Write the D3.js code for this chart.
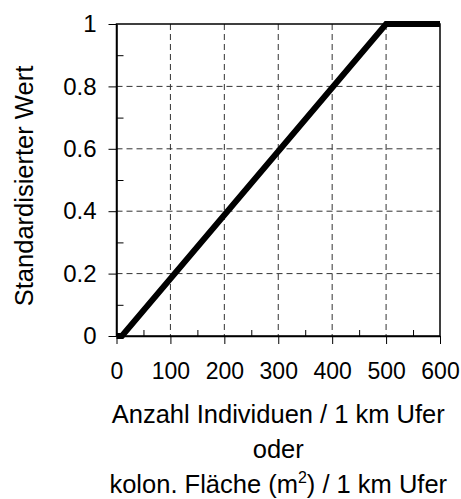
<!DOCTYPE html>
<html>
<head>
<meta charset="utf-8">
<script src="https://d3js.org/d3.v7.min.js"></script>
<style>
  body { margin: 0; background: #fff; }
  text { font-family: "Liberation Sans", Arial, sans-serif; fill: #000; }
</style>
</head>
<body>
<div id="chart"></div>
<script>
// data: piecewise standardisation curve
var xValues = [0, 10, 500, 600];
var yValues = [0, 0, 1, 1];
var xTicks = [0, 100, 200, 300, 400, 500, 600];
var yTicks = [0, 0.2, 0.4, 0.6, 0.8, 1];
var yTickLabels = ["0", "0.2", "0.4", "0.6", "0.8", "1"];

var margin = {top: 24, right: 21, bottom: 163, left: 116.5},
    width = 461 - margin.left - margin.right,
    height = 499 - margin.top - margin.bottom;

var svg = d3.select("#chart")
  .append("svg")
    .attr("width", 461)
    .attr("height", 499)
  .append("g")
    .attr("transform", "translate(" + margin.left + "," + margin.top + ")");

var x = d3.scaleLinear().domain([0, 600]).range([0, width]);
var y = d3.scaleLinear().domain([0, 1]).range([height, 0]);

// dashed grid
svg.selectAll(".vgrid")
  .data(xTicks.slice(1, -1))
  .enter().append("line")
    .attr("x1", function(d) { return x(d); })
    .attr("x2", function(d) { return x(d); })
    .attr("y1", 0).attr("y2", height)
    .attr("stroke", "#333").attr("stroke-width", 1)
    .attr("stroke-dasharray", "6,4");
svg.selectAll(".hgrid")
  .data(yTicks.slice(1, -1))
  .enter().append("line")
    .attr("x1", 0).attr("x2", width)
    .attr("y1", function(d) { return y(d); })
    .attr("y2", function(d) { return y(d); })
    .attr("stroke", "#333").attr("stroke-width", 1)
    .attr("stroke-dasharray", "6,4");

// minor ticks (inside)
svg.append("g")
  .attr("transform", "translate(0," + height + ")")
  .call(d3.axisTop(x).tickValues(d3.range(50, 600, 100)).tickSize(6).tickFormat(""))
  .call(function(g) { g.select(".domain").remove(); });
svg.append("g")
  .call(d3.axisRight(y).tickValues([0.1, 0.3, 0.5, 0.7, 0.9]).tickSize(7).tickFormat(""))
  .call(function(g) { g.select(".domain").remove(); });

// frame
svg.append("rect")
  .attr("width", width).attr("height", height)
  .attr("fill", "none").attr("stroke", "#000").attr("stroke-width", 1.5);

// major axes
var xAxis = svg.append("g")
  .attr("transform", "translate(0," + height + ")")
  .call(d3.axisBottom(x).tickValues(xTicks).tickSize(8).tickPadding(19).tickSizeOuter(0));
xAxis.selectAll("text").style("font-size", "23px");
xAxis.select(".domain").attr("stroke-width", 1.5);

var yAxis = svg.append("g")
  .call(d3.axisLeft(y).tickValues(yTicks).tickSize(8).tickPadding(12).tickSizeOuter(0)
    .tickFormat(function(d, i) { return yTickLabels[i]; }));
yAxis.selectAll("text").style("font-size", "24px");
yAxis.select(".domain").attr("stroke-width", 1.5);

// the curve
var line = d3.line()
  .x(function(d) { return x(d[0]); })
  .y(function(d) { return y(d[1]); });
svg.append("path")
  .datum(xValues.map(function(v, i) { return [v, yValues[i]]; }))
  .attr("d", line)
  .attr("fill", "none")
  .attr("stroke", "#000")
  .attr("stroke-width", 6)
  .attr("stroke-linejoin", "miter");

// axis titles
var xTitle = svg.append("text")
  .attr("text-anchor", "middle")
  .style("font-size", "25.5px");
xTitle.append("tspan").attr("x", width / 2).attr("y", height + 87).text("Anzahl Individuen / 1 km Ufer");
xTitle.append("tspan").attr("x", width / 2).attr("y", height + 122).text("oder");
var l3 = xTitle.append("tspan").attr("x", width / 2).attr("y", height + 157);
l3.append("tspan").text("kolon. Fläche (m");
l3.append("tspan").attr("dy", -10).style("font-size", "16px").text("2");
l3.append("tspan").attr("dy", 10).text(") / 1 km Ufer");

svg.append("text")
  .attr("transform", "rotate(-90)")
  .attr("x", -height / 2 - 6)
  .attr("y", -margin.left + 33)
  .attr("text-anchor", "middle")
  .style("font-size", "25.5px")
  .text("Standardisierter Wert");
</script>
</body>
</html>
